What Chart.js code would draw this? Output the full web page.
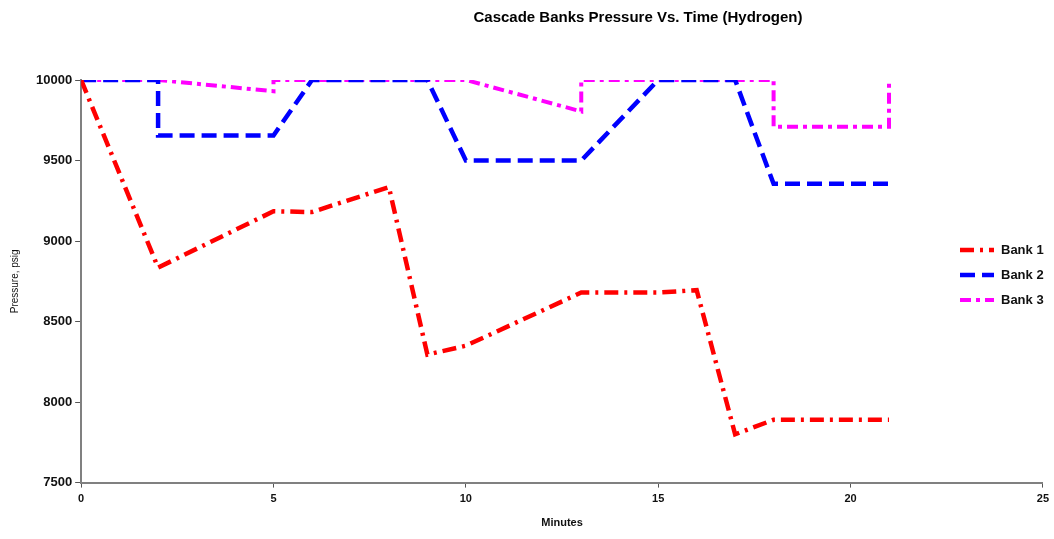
<!DOCTYPE html>
<html>
<head>
<meta charset="utf-8">
<script src="https://cdn.jsdelivr.net/npm/chart.js@4.4.1/dist/chart.umd.min.js"></script>
<style>
  html, body { margin: 0; padding: 0; background: #fff; }
  #wrap { position: relative; width: 1054px; height: 539px; }
</style>
</head>
<body>
<div id="wrap"><canvas id="chart" width="1054" height="539"></canvas></div>
<script>
// 데이터 (분, psig)
const bank1Minutes = [0, 2, 5, 6, 8, 9, 10, 13, 15, 16, 17, 18, 21];
const bank1Pressure = [10000, 8835, 9185, 9180, 9335, 8295, 8350, 8680, 8680, 8695, 7800, 7890, 7890];

const bank2Minutes = [0, 2, 2, 5, 6, 9, 10, 13, 15, 17, 18, 21];
const bank2Pressure = [10000, 10000, 9655, 9655, 10000, 10000, 9500, 9500, 10000, 10000, 9355, 9355];

const bank3Minutes = [0, 2, 5, 5, 10, 13, 13, 18, 18, 21, 21];
const bank3Pressure = [10000, 10000, 9930, 10000, 10000, 9805, 10000, 10000, 9710, 9710, 9985];

const seriesNames = ['Bank 1', 'Bank 2', 'Bank 3'];
const xTicks = [0, 5, 10, 15, 20, 25];
const yTicks = [7500, 8000, 8500, 9000, 9500, 10000];

const toPoints = (xs, ys) => xs.map((x, i) => ({ x, y: ys[i] }));

// 제목 + 범례 직접 그리기
const overlayPlugin = {
  id: 'overlay',
  afterDraw(chart) {
    const ctx = chart.ctx;
    ctx.save();
    ctx.fillStyle = '#000';
    ctx.font = 'bold 15px Arial, "Liberation Sans", sans-serif';
    ctx.textAlign = 'center';
    ctx.textBaseline = 'middle';
    ctx.fillText('Cascade Banks Pressure Vs. Time (Hydrogen)', 638, 18);

    const items = chart.data.datasets;
    ctx.font = 'bold 13px Arial, "Liberation Sans", sans-serif';
    ctx.textAlign = 'left';
    items.forEach((ds, i) => {
      const y = 250 + i * 25;
      ctx.strokeStyle = ds.borderColor;
      ctx.lineWidth = ds.borderWidth;
      ctx.setLineDash(ds.borderDash);
      ctx.beginPath();
      ctx.moveTo(960, y);
      ctx.lineTo(994, y);
      ctx.stroke();
      ctx.setLineDash([]);
      ctx.fillStyle = '#111';
      ctx.fillText(ds.label, 1001, y);
    });
    ctx.restore();
  },
};

const ctx = document.getElementById('chart').getContext('2d');
new Chart(ctx, {
  type: 'scatter',
  data: {
    datasets: [
      {
        label: seriesNames[0],
        data: toPoints(bank1Minutes, bank1Pressure),
        showLine: true,
        borderColor: '#ff0000',
        borderWidth: 4.5,
        borderDash: [14, 6, 3, 6],
        pointRadius: 0,
        tension: 0,
      },
      {
        label: seriesNames[1],
        data: toPoints(bank2Minutes, bank2Pressure),
        showLine: true,
        borderColor: '#0000ff',
        borderWidth: 4.5,
        borderDash: [15, 7],
        pointRadius: 0,
        tension: 0,
      },
      {
        label: seriesNames[2],
        data: toPoints(bank3Minutes, bank3Pressure),
        showLine: true,
        borderColor: '#ff00ff',
        borderWidth: 4,
        borderDash: [11, 5, 4, 5],
        pointRadius: 0,
        tension: 0,
      },
    ],
  },
  options: {
    responsive: false,
    animation: false,
    layout: { padding: { top: 80, right: 11, left: 9, bottom: 7 } },
    plugins: {
      legend: { display: false },
      title: { display: false },
      tooltip: { enabled: false },
    },
    scales: {
      x: {
        type: 'linear',
        min: 0,
        max: 25,
        afterBuildTicks: (axis) => { axis.ticks = xTicks.map((v) => ({ value: v })); },
        grid: { drawOnChartArea: false, color: '#555', tickLength: 5, tickWidth: 1 },
        border: { color: '#808080', width: 2 },
        ticks: {
          color: '#111',
          font: { family: 'Arial', size: 11, weight: 'bold' },
          padding: 5,
          maxRotation: 0,
          callback: (v) => String(v),
        },
        title: { display: true, text: 'Minutes', color: '#111', font: { family: 'Arial', size: 11, weight: 'bold' }, padding: { top: 6, bottom: 2 } },
      },
      y: {
        min: 7500,
        max: 10000,
        afterBuildTicks: (axis) => { axis.ticks = yTicks.map((v) => ({ value: v })); },
        grid: { drawOnChartArea: false, color: '#555', tickLength: 6, tickWidth: 1 },
        border: { color: '#808080', width: 2 },
        ticks: {
          color: '#111',
          font: { family: 'Arial', size: 13, weight: 'bold' },
          padding: 3,
          callback: (v) => String(v),
        },
        title: { display: true, text: 'Pressure, psig', color: '#111', font: { family: 'Arial', size: 10 }, padding: { top: 0, bottom: 12 } },
      },
    },
  },
  plugins: [overlayPlugin],
});
</script>
</body>
</html>
